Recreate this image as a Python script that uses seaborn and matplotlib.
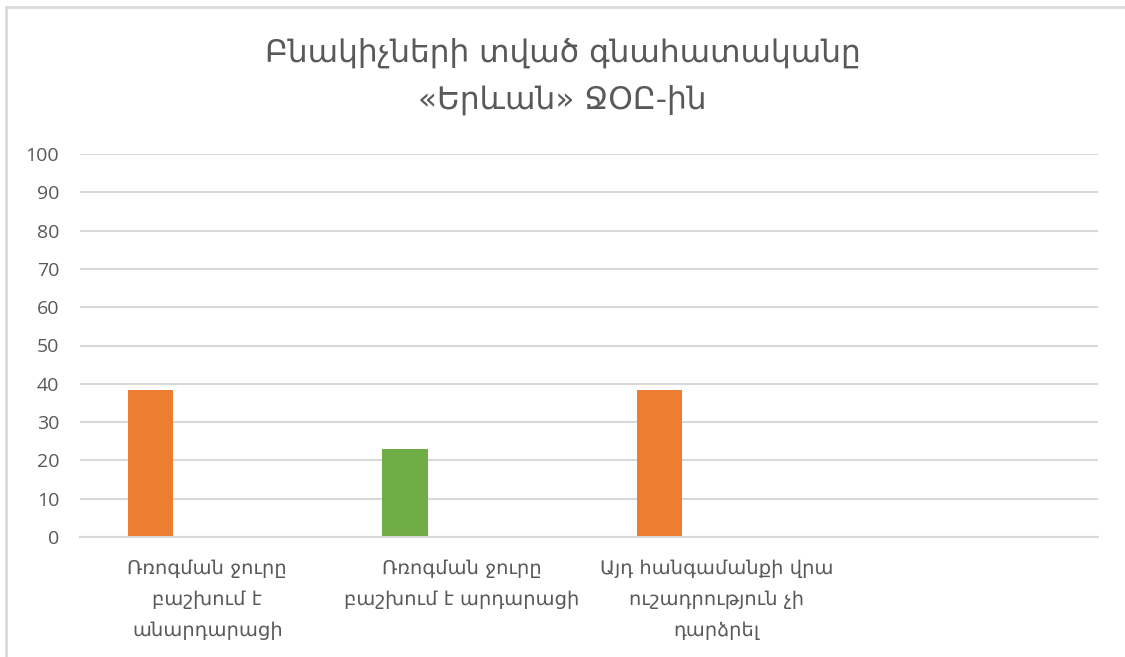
import matplotlib
matplotlib.use("Agg")
import pandas as pd
import matplotlib.pyplot as plt
import seaborn as sns
from matplotlib.patches import Rectangle

# Data
categories = [
    "Ռռոգման ջուրը\nբաշխում է\nանարդարացի",
    "Ռռոգման ջուրը\nբաշխում է արդարացի",
    "Այդ հանգամանքի վրա\nուշադրություն չի\nդարձրել",
    "",
]
values = [38.5, 23.1, 38.5]
bar_colors = ["#ED7D31", "#70AD47", "#ED7D31"]
series_slots = ["Շարք 1", "Շարք 2", "Շարք 3"]
title = "Բնակիչների տված գնահատականը\n«Երևան» ՋՕԸ-ին"

df = pd.DataFrame({
    "category": categories[:len(values)],
    "value": values,
    "series": series_slots[0],
})

sns.set_theme(style="white")
plt.rcParams["font.family"] = ["Open Sans", "DejaVu Sans"]
armenian = ["DejaVu Sans"]
text_grey = "#595959"
grid_grey = "#D9D9D9"

fig = plt.figure(figsize=(11.25, 6.57), dpi=100)
ax = fig.add_axes([80 / 1125, 1 - 537 / 657, 1018 / 1125, 383 / 657])

sns.barplot(data=df, x="category", y="value", hue="series",
            order=categories, hue_order=series_slots,
            palette=[bar_colors[0]] * 3, dodge=True, width=0.669, gap=0.206,
            legend=False, linewidth=0, ax=ax)

# colour each bar like the original
for patch, c in zip(ax.containers[0], bar_colors):
    patch.set_facecolor(c)

ax.set_ylim(0, 100)
ax.set_yticks(range(0, 101, 10))
ax.set_xlim(-0.5, len(categories) - 0.5)
ax.yaxis.grid(True, color=grid_grey, linewidth=1.5)
ax.set_axisbelow(True)
for side in ["left", "right", "top"]:
    ax.spines[side].set_visible(False)
ax.spines["bottom"].set_color(grid_grey)
ax.spines["bottom"].set_linewidth(1.5)
ax.set_xlabel("")
ax.set_ylabel("")
ax.tick_params(axis="y", length=0, pad=15, labelsize=14, labelcolor=text_grey)
ax.tick_params(axis="x", length=0, pad=16)
ax.set_xticks(range(len(categories)))
ax.set_xticklabels(categories, family=armenian, fontsize=14,
                   color=text_grey, linespacing=1.8, va="top")

fig.text(0.5, 1 - 76 / 657, title, ha="center", va="center",
         family=armenian, fontsize=22.5, color=text_grey, linespacing=1.7)

# outer chart border
fig.add_artist(Rectangle((5.5 / 1125, -0.05), 1.2, 1 - 6.5 / 657 + 0.05,
                         transform=fig.transFigure, fill=False,
                         edgecolor=grid_grey, linewidth=2))

fig.savefig("out.png", dpi=100)
